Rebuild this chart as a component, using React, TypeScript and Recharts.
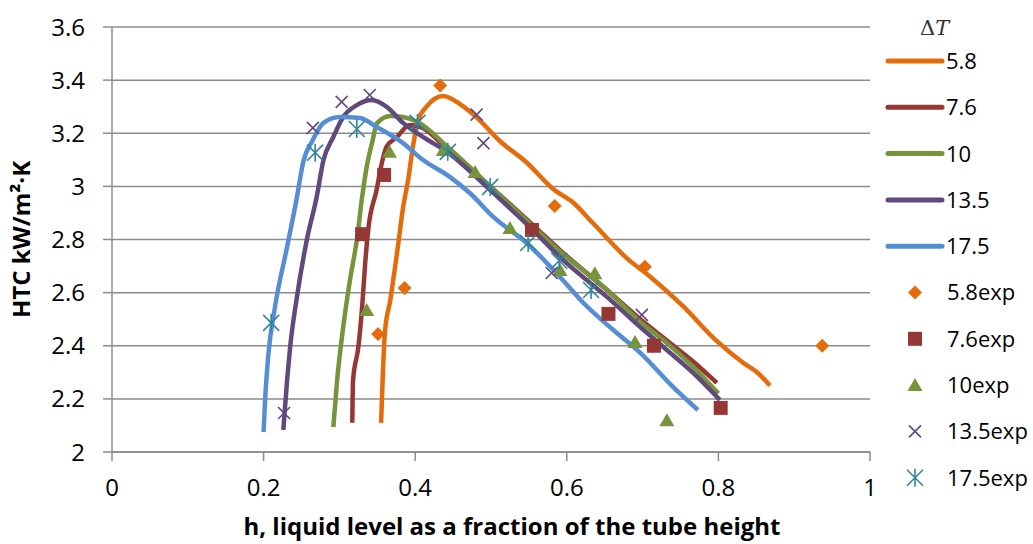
import React from "react";
import {
  ComposedChart,
  Line,
  Scatter,
  XAxis,
  YAxis,
  CartesianGrid,
  Label,
} from "recharts";

// model curves
const curve58 = [
  { x: 0.355, y: 2.11 }, { x: 0.357, y: 2.27 }, { x: 0.36, y: 2.45 }, { x: 0.367, y: 2.57 },
  { x: 0.377, y: 2.77 }, { x: 0.384, y: 2.92 }, { x: 0.391, y: 3.03 }, { x: 0.397, y: 3.15 },
  { x: 0.404, y: 3.25 }, { x: 0.415, y: 3.3 }, { x: 0.437, y: 3.34 }, { x: 0.459, y: 3.31 },
  { x: 0.481, y: 3.26 }, { x: 0.512, y: 3.17 }, { x: 0.547, y: 3.09 }, { x: 0.582, y: 2.99 },
  { x: 0.608, y: 2.94 }, { x: 0.635, y: 2.86 }, { x: 0.679, y: 2.73 }, { x: 0.71, y: 2.66 },
  { x: 0.753, y: 2.55 }, { x: 0.797, y: 2.42 }, { x: 0.833, y: 2.335 }, { x: 0.851, y: 2.3 },
  { x: 0.868, y: 2.25 },
];
const curve76 = [
  { x: 0.317, y: 2.11 }, { x: 0.318, y: 2.27 }, { x: 0.325, y: 2.395 }, { x: 0.33, y: 2.546 },
  { x: 0.334, y: 2.71 }, { x: 0.338, y: 2.836 }, { x: 0.349, y: 2.986 }, { x: 0.356, y: 3.088 },
  { x: 0.362, y: 3.148 }, { x: 0.376, y: 3.186 }, { x: 0.393, y: 3.231 }, { x: 0.41, y: 3.22 },
  { x: 0.442, y: 3.14 }, { x: 0.499, y: 3.0 }, { x: 0.555, y: 2.855 }, { x: 0.591, y: 2.76 },
  { x: 0.653, y: 2.61 }, { x: 0.697, y: 2.5 }, { x: 0.732, y: 2.42 }, { x: 0.767, y: 2.34 },
  { x: 0.798, y: 2.26 },
];
const curve10 = [
  { x: 0.292, y: 2.094 }, { x: 0.297, y: 2.27 }, { x: 0.305, y: 2.47 }, { x: 0.314, y: 2.648 },
  { x: 0.323, y: 2.798 }, { x: 0.33, y: 2.96 }, { x: 0.336, y: 3.073 }, { x: 0.343, y: 3.163 },
  { x: 0.35, y: 3.239 }, { x: 0.367, y: 3.265 }, { x: 0.384, y: 3.261 }, { x: 0.405, y: 3.24 },
  { x: 0.442, y: 3.15 }, { x: 0.499, y: 3.0 }, { x: 0.555, y: 2.85 }, { x: 0.591, y: 2.755 },
  { x: 0.653, y: 2.61 }, { x: 0.697, y: 2.49 }, { x: 0.732, y: 2.41 }, { x: 0.767, y: 2.32 },
  { x: 0.8, y: 2.22 },
];
const curve135 = [
  { x: 0.226, y: 2.083 }, { x: 0.231, y: 2.27 }, { x: 0.235, y: 2.395 }, { x: 0.244, y: 2.584 },
  { x: 0.257, y: 2.798 }, { x: 0.27, y: 2.96 }, { x: 0.279, y: 3.099 }, { x: 0.292, y: 3.186 },
  { x: 0.305, y: 3.261 }, { x: 0.323, y: 3.306 }, { x: 0.343, y: 3.325 }, { x: 0.362, y: 3.3 },
  { x: 0.384, y: 3.239 }, { x: 0.41, y: 3.186 }, { x: 0.442, y: 3.13 }, { x: 0.499, y: 2.986 },
  { x: 0.555, y: 2.836 }, { x: 0.591, y: 2.734 }, { x: 0.653, y: 2.584 }, { x: 0.697, y: 2.47 },
  { x: 0.732, y: 2.384 }, { x: 0.767, y: 2.297 }, { x: 0.802, y: 2.196 },
];
const curve175 = [
  { x: 0.2, y: 2.075 }, { x: 0.202, y: 2.196 }, { x: 0.206, y: 2.358 }, { x: 0.215, y: 2.546 },
  { x: 0.231, y: 2.772 }, { x: 0.244, y: 2.96 }, { x: 0.252, y: 3.088 }, { x: 0.265, y: 3.175 },
  { x: 0.279, y: 3.239 }, { x: 0.301, y: 3.261 }, { x: 0.327, y: 3.257 }, { x: 0.349, y: 3.224 },
  { x: 0.384, y: 3.163 }, { x: 0.41, y: 3.1 }, { x: 0.446, y: 3.035 }, { x: 0.472, y: 2.975 },
  { x: 0.503, y: 2.885 }, { x: 0.547, y: 2.787 }, { x: 0.591, y: 2.659 }, { x: 0.622, y: 2.561 },
  { x: 0.661, y: 2.46 }, { x: 0.697, y: 2.373 }, { x: 0.74, y: 2.245 }, { x: 0.773, y: 2.158 },
];

// experimental points
const exp58 = [
  { x: 0.351, y: 2.444 }, { x: 0.386, y: 2.617 }, { x: 0.433, y: 3.38 },
  { x: 0.584, y: 2.926 }, { x: 0.703, y: 2.697 }, { x: 0.937, y: 2.4 },
];
const exp76 = [
  { x: 0.33, y: 2.82 }, { x: 0.359, y: 3.043 }, { x: 0.554, y: 2.836 },
  { x: 0.655, y: 2.52 }, { x: 0.715, y: 2.4 }, { x: 0.803, y: 2.166 },
];
const exp10 = [
  { x: 0.336, y: 2.535 }, { x: 0.366, y: 3.13 }, { x: 0.437, y: 3.137 }, { x: 0.479, y: 3.054 },
  { x: 0.525, y: 2.843 }, { x: 0.591, y: 2.685 }, { x: 0.637, y: 2.673 }, { x: 0.69, y: 2.414 },
  { x: 0.732, y: 2.12 },
];
const exp135 = [
  { x: 0.227, y: 2.147 }, { x: 0.265, y: 3.22 }, { x: 0.303, y: 3.318 }, { x: 0.34, y: 3.344 },
  { x: 0.481, y: 3.27 }, { x: 0.49, y: 3.163 }, { x: 0.58, y: 2.674 }, { x: 0.699, y: 2.516 },
];
const exp175 = [
  { x: 0.21, y: 2.486 }, { x: 0.268, y: 3.127 }, { x: 0.323, y: 3.216 }, { x: 0.403, y: 3.239 },
  { x: 0.443, y: 3.13 }, { x: 0.499, y: 2.998 }, { x: 0.549, y: 2.787 }, { x: 0.59, y: 2.72 },
  { x: 0.632, y: 2.61 },
];

const xTicks = [0, 0.2, 0.4, 0.6, 0.8, 1];
const yTicks = [2, 2.2, 2.4, 2.6, 2.8, 3, 3.2, 3.4, 3.6];

const C = {
  orange: "#E46C0A",
  red: "#953735",
  green: "#77933C",
  purple: "#604A7B",
  blue: "#558ED5",
  teal: "#31859C",
};

const FONT = "'Open Sans', sans-serif";

// marker shapes
const Diamond = ({ cx, cy, fill }: any) => (
  <path d={`M${cx},${cy - 7} L${cx + 7},${cy} L${cx},${cy + 7} L${cx - 7},${cy} Z`} fill={fill} />
);
const Square = ({ cx, cy, fill }: any) => (
  <rect x={cx - 7} y={cy - 7} width={14} height={14} fill={fill} />
);
const Triangle = ({ cx, cy, fill }: any) => (
  <path d={`M${cx},${cy - 7} L${cx + 7.5},${cy + 6} L${cx - 7.5},${cy + 6} Z`} fill={fill} />
);
const Cross = ({ cx, cy, fill }: any) => (
  <path
    d={`M${cx - 6},${cy - 6} L${cx + 6},${cy + 6} M${cx + 6},${cy - 6} L${cx - 6},${cy + 6}`}
    stroke={fill}
    strokeWidth={1.6}
  />
);
const Asterisk = ({ cx, cy, fill }: any) => (
  <path
    d={`M${cx - 8},${cy - 8} L${cx + 8},${cy + 8} M${cx + 8},${cy - 8} L${cx - 8},${cy + 8} M${cx},${cy - 9} L${cx},${cy + 9}`}
    stroke={fill}
    strokeWidth={1.6}
  />
);

const lineSeries = [
  { name: "5.8", data: curve58, color: C.orange },
  { name: "7.6", data: curve76, color: C.red },
  { name: "10", data: curve10, color: C.green },
  { name: "13.5", data: curve135, color: C.purple },
  { name: "17.5", data: curve175, color: C.blue },
];
const expSeries = [
  { name: "5.8exp", data: exp58, color: C.orange, shape: Diamond },
  { name: "7.6exp", data: exp76, color: C.red, shape: Square },
  { name: "10exp", data: exp10, color: C.green, shape: Triangle },
  { name: "13.5exp", data: exp135, color: C.purple, shape: Cross },
  { name: "17.5exp", data: exp175, color: C.teal, shape: Asterisk },
];

function LegendBox() {
  const rowY = (i: number) => 61 + i * 46.3;
  return (
    <svg
      width={153}
      height={544}
      style={{ position: "absolute", left: 880, top: 0, fontFamily: FONT }}
    >
      <text x={40} y={35} fontFamily="'DejaVu Serif', serif" fontSize={21} fill="#333">
        Δ<tspan fontStyle="italic">T</tspan>
      </text>
      {lineSeries.map((s, i) => (
        <g key={s.name}>
          <line x1={8} x2={62} y1={rowY(i)} y2={rowY(i)} stroke={s.color} strokeWidth={5} strokeLinecap="round" />
          <text x={66} y={rowY(i)} dy="0.36em" fontSize={22} fill="#000">
            {s.name}
          </text>
        </g>
      ))}
      {expSeries.map((s, j) => {
        const i = j + 5;
        const Shape = s.shape;
        return (
          <g key={s.name}>
            <Shape cx={35} cy={rowY(i)} fill={s.color} />
            <text x={67} y={rowY(i)} dy="0.36em" fontSize={22} fill="#000">
              {s.name}
            </text>
          </g>
        );
      })}
    </svg>
  );
}

export default function App() {
  return (
    <div style={{ position: "absolute", left: 0, top: 0, width: 1033, height: 544, background: "#fff" }}>
      <ComposedChart
        width={1033}
        height={544}
        margin={{ top: 27, right: 163, bottom: 0, left: 0 }}
        style={{ fontFamily: FONT }}
      >
        <CartesianGrid vertical={false} stroke="#8c8c8c" strokeWidth={1.5} />
        <XAxis
          dataKey="x"
          type="number"
          domain={[0, 1]}
          ticks={xTicks}
          height={92}
          stroke="#8c8c8c"
          strokeWidth={1.5}
          tickSize={9}
          tickMargin={18}
          tick={{ fill: "#000", fontSize: 24 }}
        >
          <Label
            value="h, liquid level as a fraction of the tube height"
            position="insideBottom"
            offset={9}
            style={{ fontWeight: 700, fontSize: 24, fill: "#000" }}
            dx={21}
          />
        </XAxis>
        <YAxis
          dataKey="y"
          type="number"
          domain={[2, 3.6]}
          ticks={yTicks}
          width={112}
          stroke="#8c8c8c"
          strokeWidth={1.5}
          tickSize={9}
          tickMargin={18}
          tick={{ fill: "#000", fontSize: 24 }}
        >
          <Label
            value="HTC kW/m²·K"
            angle={-90}
            position="insideLeft"
            offset={21}
            style={{ fontWeight: 700, fontSize: 24, fill: "#000", textAnchor: "middle" }}
          />
        </YAxis>
        {lineSeries.map((s) => (
          <Line
            key={s.name}
            data={s.data}
            dataKey="y"
            name={s.name}
            type="monotone"
            stroke={s.color}
            strokeWidth={4.5}
            dot={false}
            isAnimationActive={false}
          />
        ))}
        {expSeries.map((s) => (
          <Scatter
            key={s.name}
            data={s.data}
            dataKey="y"
            name={s.name}
            fill={s.color}
            shape={s.shape}
            isAnimationActive={false}
          />
        ))}
      </ComposedChart>
      <LegendBox />
    </div>
  );
}
